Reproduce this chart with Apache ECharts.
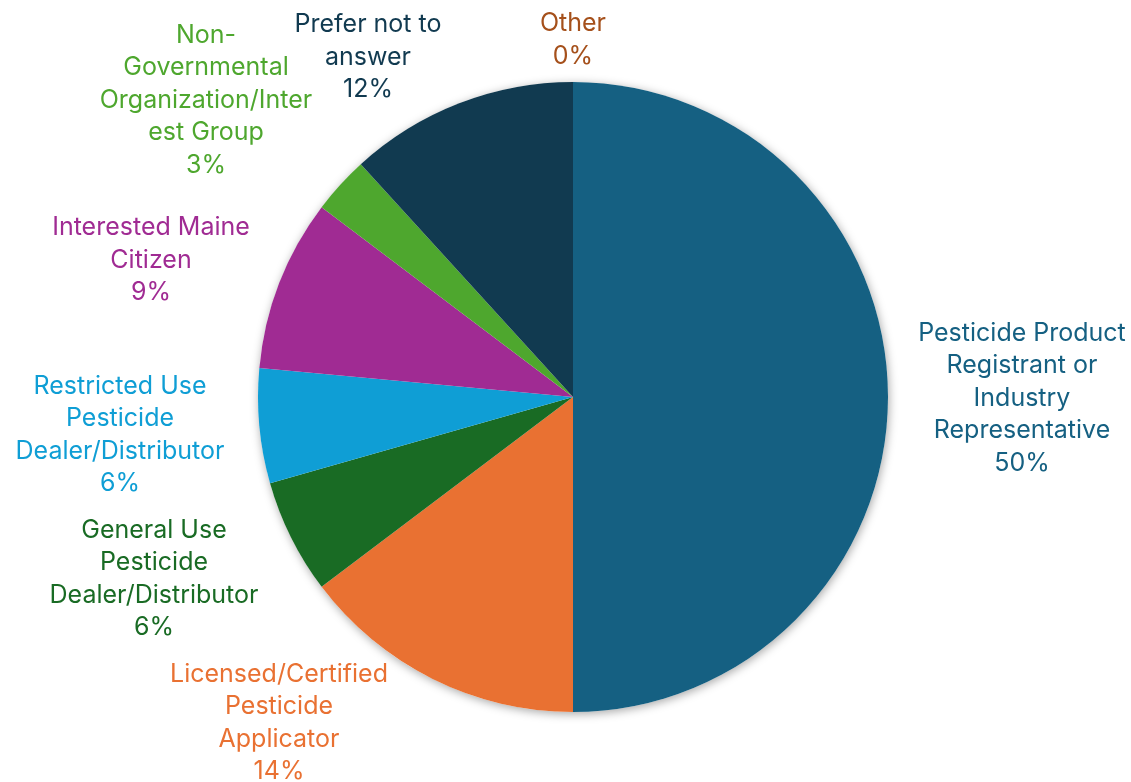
<!DOCTYPE html>
<html>
<head>
<meta charset="utf-8">
<script src="https://cdn.jsdelivr.net/npm/echarts@6/dist/echarts.min.js"></script>
<style>
html,body{margin:0;padding:0;background:#fff;}
#chart{width:1131px;height:782px;}
</style>
</head>
<body>
<div id="chart"></div>
<script>
// ---- data ----
const categories = [
  "Pesticide Product Registrant or Industry Representative",
  "Licensed/Certified Pesticide Applicator",
  "General Use Pesticide Dealer/Distributor",
  "Restricted Use Pesticide Dealer/Distributor",
  "Interested Maine Citizen",
  "Non-Governmental Organization/Interest Group",
  "Prefer not to answer",
  "Other"
];
const counts = [17, 5, 2, 2, 3, 1, 4, 0];
// wrapped label text (as shown in the reference)
const wrappedLabels = [
  "Pesticide Product\nRegistrant or\nIndustry\nRepresentative",
  "Licensed/Certified\nPesticide\nApplicator",
  "General Use\nPesticide\nDealer/Distributor",
  "Restricted Use\nPesticide\nDealer/Distributor",
  "Interested Maine\nCitizen",
  "Non-\nGovernmental\nOrganization/Inter\nest Group",
  "Prefer not to\nanswer",
  "Other"
];
const colors = ["#156082", "#E97132", "#196B24", "#0F9ED5", "#A02B93", "#4EA72E", "#113A50", "#A5501B"];
// label anchor positions (style)
const labelPos = [
  [1022, 398], [279, 723], [154, 579], [120, 435],
  [151, 260], [206, 100], [368, 57], [573, 40]
];

const chart = echarts.init(document.getElementById('chart'), null, {renderer: 'canvas'});
const CENTER = [573, 397];
const R = 315;

chart.setOption({
  animation: false,
  backgroundColor: '#ffffff',
  series: [
    {
      type: 'pie',
      silent: true,
      center: CENTER,
      radius: R,
      z: 1,
      data: [{value: 1, name: 'bg'}],
      label: {show: false},
      labelLine: {show: false},
      itemStyle: {
        color: '#ffffff',
        shadowBlur: 10,
        shadowColor: 'rgba(0,0,0,0.35)',
        shadowOffsetX: 1,
        shadowOffsetY: 2
      }
    },
    {
      type: 'pie',
      center: CENTER,
      radius: R,
      z: 2,
      startAngle: 90,
      clockwise: true,
      percentPrecision: 0,
      avoidLabelOverlap: false,
      data: categories.map((n, i) => ({
        name: n,
        value: counts[i],
        itemStyle: {color: colors[i]},
        label: {color: colors[i]}
      })),
      itemStyle: {borderWidth: 0},
      label: {
        show: true,
        position: 'outside',
        fontFamily: 'Inter',
        fontSize: 25,
        lineHeight: 32.5,
        align: 'center',
        formatter: p => wrappedLabels[p.dataIndex] + '\n' + p.percent + '%'
      },
      labelLine: {show: false},
      labelLayout: function (params) {
        const pos = labelPos[params.dataIndex];
        return {x: pos[0], y: pos[1], align: 'center', verticalAlign: 'middle', hideOverlap: false};
      }
    }
  ]
});
</script>
</body>
</html>
